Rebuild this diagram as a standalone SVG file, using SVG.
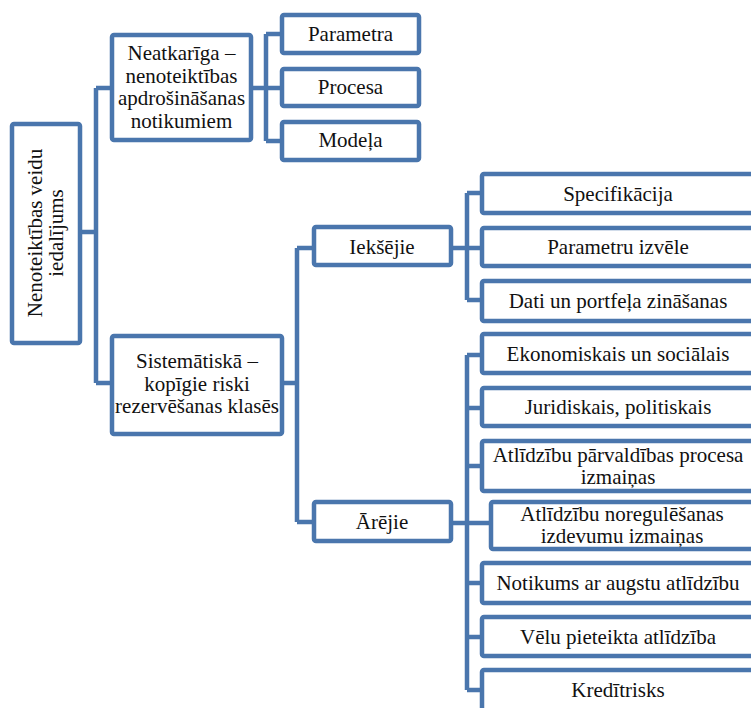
<svg xmlns="http://www.w3.org/2000/svg" width="751" height="708" viewBox="0 0 751 708" font-family="'Liberation Serif', 'DejaVu Serif', serif">
  <style>
    .box { fill: #ffffff; stroke: #4A76AD; stroke-width: 4.5; }
    .link { fill: none; stroke: #4A76AD; stroke-width: 4.5; stroke-linejoin: round; }
    text { font-family: 'Liberation Serif', 'DejaVu Serif', serif; font-size: 21px; fill: #111; text-anchor: middle; }
  </style>
  <rect width="751" height="708" fill="#ffffff"/>

  <g id="connectors">
    <!-- root to level 1 -->
    <path class="link" d="M82 232 H96 M96 88 V383 M96 88 H110 M96 383 H110"/>
    <!-- Neatkarīga to its children -->
    <path class="link" d="M253 88 H266 M266 34 V141 M266 34 H280 M266 88 H280 M266 141 H280"/>
    <!-- Sistemātiskā to Iekšējie / Ārējie -->
    <path class="link" d="M284 383 H297 M297 248 V522 M297 248 H312 M297 522 H312"/>
    <!-- Iekšējie to its children -->
    <path class="link" d="M453 248 H467 M467 193 V300 M467 193 H480 M467 248 H480 M467 300 H480"/>
    <!-- Ārējie to its children -->
    <path class="link" d="M453 523 H467 M467 355 V690 M467 355 H480 M467 408 H480 M467 466 H480 M467 523 H489 M467 583 H480 M467 637 H480 M467 690 H480"/>
  </g>

  <g id="root">
    <rect class="box" x="12" y="124" width="68" height="219" rx="2"/>
    <text transform="translate(42,233) rotate(-90)">Nenoteiktības veidu<tspan x="0" dy="21">iedalījums</tspan></text>
  </g>

  <g id="neatkariga">
    <rect class="box" x="112" y="35" width="139" height="105" rx="2"/>
    <text x="181.5" y="60">Neatkarīga –</text>
    <text x="181.5" y="83">nenoteiktības</text>
    <text x="181.5" y="105">apdrošināšanas</text>
    <text x="181.5" y="128">notikumiem</text>
  </g>

  <g id="parametra">
    <rect class="box" x="282" y="15" width="137" height="38" rx="2"/>
    <text x="350.5" y="41">Parametra</text>
  </g>
  <g id="procesa">
    <rect class="box" x="282" y="69" width="137" height="37" rx="2"/>
    <text x="350.5" y="94">Procesa</text>
  </g>
  <g id="modela">
    <rect class="box" x="282" y="122" width="137" height="38" rx="2"/>
    <text x="350.5" y="147">Modeļa</text>
  </g>

  <g id="sistematiska">
    <rect class="box" x="112" y="336" width="170" height="98" rx="2"/>
    <text x="197" y="368">Sistemātiskā –</text>
    <text x="197" y="391">kopīgie riski</text>
    <text x="197" y="413">rezervēšanas klasēs</text>
  </g>

  <g id="ieksejie">
    <rect class="box" x="314" y="227" width="137" height="38" rx="2"/>
    <text x="382" y="254">Iekšējie</text>
  </g>
  <g id="arejie">
    <rect class="box" x="314" y="502" width="137" height="39" rx="2"/>
    <text x="382" y="529">Ārējie</text>
  </g>

  <g id="specifikacija">
    <rect class="box" x="482" y="174" width="272" height="39" rx="2"/>
    <text x="618" y="201">Specifikācija</text>
  </g>
  <g id="parametru-izvele">
    <rect class="box" x="482" y="228" width="272" height="38" rx="2"/>
    <text x="618" y="254">Parametru izvēle</text>
  </g>
  <g id="dati">
    <rect class="box" x="482" y="281" width="272" height="40" rx="2"/>
    <text x="618" y="308">Dati un portfeļa zināšanas</text>
  </g>

  <g id="ekonomiskais">
    <rect class="box" x="482" y="334" width="272" height="39" rx="2"/>
    <text x="618" y="361">Ekonomiskais un sociālais</text>
  </g>
  <g id="juridiskais">
    <rect class="box" x="482" y="388" width="272" height="38" rx="2"/>
    <text x="618" y="414">Juridiskais, politiskais</text>
  </g>
  <g id="parvaldibas">
    <rect class="box" x="482" y="441" width="272" height="50" rx="2"/>
    <text x="618" y="462">Atlīdzību pārvaldības procesa</text>
    <text x="618" y="484">izmaiņas</text>
  </g>
  <g id="noregulesanas">
    <rect class="box" x="491" y="502" width="265" height="47" rx="2"/>
    <text x="622" y="521">Atlīdzību noregulēšanas</text>
    <text x="622" y="543">izdevumu izmaiņas</text>
  </g>
  <g id="notikums">
    <rect class="box" x="482" y="563" width="272" height="40" rx="2"/>
    <text x="618" y="590">Notikums ar augstu atlīdzību</text>
  </g>
  <g id="velu">
    <rect class="box" x="482" y="617" width="272" height="39" rx="2"/>
    <text x="618" y="644">Vēlu pieteikta atlīdzība</text>
  </g>
  <g id="kreditrisks">
    <rect class="box" x="482" y="670" width="272" height="50" rx="2"/>
    <text x="618" y="697">Kredītrisks</text>
  </g>
</svg>
